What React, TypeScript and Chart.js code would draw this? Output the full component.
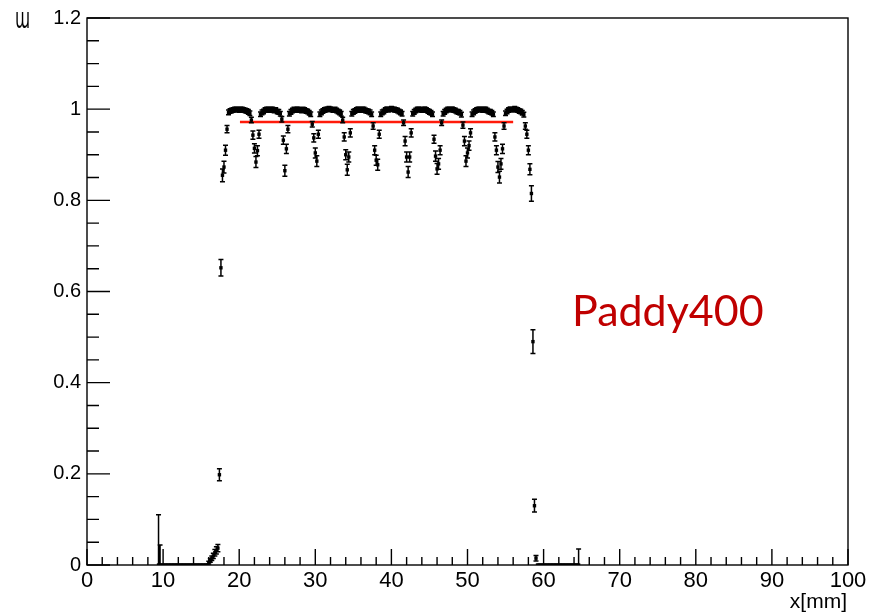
import React, { useEffect, useRef } from 'react';
import { Chart, registerables } from 'chart.js';

Chart.register(...registerables);

// Scan grid (position in mm of the first point and step between points)
const scanStartMm = 9.4;
const scanStepMm = 0.2;

// Efficiency values, left edge 9.4 .. 18.4 mm
const effLeft = [
  0, 0,
  0, 0, 0, 0, 0, 0, 0, 0, 0, 0, 0, 0, 0, 0, 0, 0, 0, 0, 0, 0, 0, 0, 0, 0, 0, 0, 0, 0, 0, 0, 0,
  0.005, 0.01, 0.015, 0.02, 0.027, 0.032, 0.037, 0.198, 0.652, 0.855, 0.873, 0.91, 0.956,
];
const errLeft = [
  0.11, 0.044,
  0, 0, 0, 0, 0, 0, 0, 0, 0, 0, 0, 0, 0, 0, 0, 0, 0, 0, 0, 0, 0, 0, 0, 0, 0, 0, 0, 0, 0, 0, 0,
  0.003, 0.004, 0.005, 0.006, 0.007, 0.008, 0.008, 0.013, 0.018, 0.014, 0.013, 0.011, 0.008,
];

// Plateau 18.6 .. 57.4 mm (arcs between dips)
const effPlateau = [
  0.993, 0.996, 0.997, 0.998, 0.999, 1.0, 0.999, 0.998, 1.0, 0.999, 0.998, 0.997, 0.996, 0.994, 0.991,
  0.976, 0.943, 0.914, 0.884, 0.909, 0.945,
  0.989, 0.993, 0.995, 0.998, 0.999, 1.0, 0.998, 1.0, 0.999, 0.997, 0.998, 0.995, 0.994, 0.99,
  0.978, 0.932, 0.865, 0.913, 0.956,
  0.99, 0.994, 0.997, 0.999, 0.998, 1.0, 0.999, 0.998, 0.997, 0.999, 0.998, 0.996, 0.995, 0.992, 0.989,
  0.967, 0.937, 0.904, 0.886, 0.945,
  0.989, 0.993, 0.996, 0.998, 0.999, 1.0, 1.001, 1.0, 0.999, 0.998, 0.999, 0.997, 0.995, 0.993, 0.99,
  0.976, 0.939, 0.9, 0.867, 0.895, 0.948,
  0.99, 0.994, 0.996, 0.998, 1.0, 0.999, 0.998, 1.0, 0.999, 0.997, 0.996, 0.995, 0.993, 0.989,
  0.963, 0.91, 0.888, 0.878, 0.945,
  0.989, 0.993, 0.995, 0.998, 1.0, 0.999, 1.0, 1.001, 1.0, 0.999, 0.998, 0.997, 0.995, 0.993, 0.99,
  0.97, 0.93, 0.895, 0.862, 0.895, 0.948,
  0.99, 0.994, 0.997, 0.999, 1.0, 0.999, 0.998, 0.999, 1.0, 0.998, 0.996, 0.994, 0.992, 0.989,
  0.934, 0.897, 0.869, 0.88, 0.91, 0.97,
  0.99, 0.994, 0.997, 0.999, 1.0, 0.999, 1.0, 0.998, 0.997, 0.995, 0.994, 0.992, 0.988,
  0.965, 0.93, 0.886, 0.904, 0.92, 0.948,
  0.989, 0.993, 0.996, 0.998, 0.999, 1.0, 0.999, 0.998, 1.0, 0.999, 0.997, 0.995, 0.994, 0.992, 0.989,
  0.939, 0.91, 0.873, 0.851, 0.88, 0.913, 0.963,
  0.991, 0.995, 0.998, 1.0, 0.999, 1.0, 1.001, 0.999, 0.998, 0.996, 0.995, 0.992, 0.988,
];
const errPlateau = [
  0.005, 0.005, 0.005, 0.005, 0.005, 0.005, 0.005, 0.005, 0.005, 0.005, 0.005, 0.005, 0.005, 0.005, 0.005,
  0.006, 0.009, 0.01, 0.012, 0.011, 0.009,
  0.005, 0.005, 0.005, 0.005, 0.005, 0.005, 0.005, 0.005, 0.005, 0.005, 0.005, 0.005, 0.005, 0.005,
  0.006, 0.009, 0.012, 0.01, 0.008,
  0.005, 0.005, 0.005, 0.005, 0.005, 0.005, 0.005, 0.005, 0.005, 0.005, 0.005, 0.005, 0.005, 0.005, 0.005,
  0.006, 0.009, 0.011, 0.012, 0.009,
  0.005, 0.005, 0.005, 0.005, 0.005, 0.005, 0.005, 0.005, 0.005, 0.005, 0.005, 0.005, 0.005, 0.005, 0.005,
  0.006, 0.009, 0.011, 0.012, 0.011, 0.009,
  0.005, 0.005, 0.005, 0.005, 0.005, 0.005, 0.005, 0.005, 0.005, 0.005, 0.005, 0.005, 0.005, 0.005,
  0.007, 0.01, 0.011, 0.012, 0.009,
  0.005, 0.005, 0.005, 0.005, 0.005, 0.005, 0.005, 0.005, 0.005, 0.005, 0.005, 0.005, 0.005, 0.005, 0.005,
  0.006, 0.01, 0.011, 0.012, 0.011, 0.009,
  0.005, 0.005, 0.005, 0.005, 0.005, 0.005, 0.005, 0.005, 0.005, 0.005, 0.005, 0.005, 0.005, 0.005,
  0.009, 0.011, 0.012, 0.012, 0.01, 0.006,
  0.005, 0.005, 0.005, 0.005, 0.005, 0.005, 0.005, 0.005, 0.005, 0.005, 0.005, 0.005, 0.005,
  0.007, 0.01, 0.012, 0.011, 0.01, 0.009,
  0.005, 0.005, 0.005, 0.005, 0.005, 0.005, 0.005, 0.005, 0.005, 0.005, 0.005, 0.005, 0.005, 0.005, 0.005,
  0.009, 0.01, 0.012, 0.013, 0.012, 0.01, 0.007,
  0.005, 0.005, 0.005, 0.005, 0.005, 0.005, 0.005, 0.005, 0.005, 0.005, 0.005, 0.005, 0.005,
];

// Right edge 57.6 .. 64.6 mm
const effRight = [
  0.963, 0.945, 0.91, 0.868, 0.815, 0.49, 0.13, 0.015,
  0, 0, 0, 0, 0, 0, 0, 0, 0, 0, 0, 0, 0, 0, 0, 0, 0, 0, 0, 0, 0, 0, 0, 0, 0, 0, 0, 0,
];
const errRight = [
  0.007, 0.009, 0.01, 0.012, 0.017, 0.026, 0.014, 0.006,
  0, 0, 0, 0, 0, 0, 0, 0, 0, 0, 0, 0, 0, 0, 0, 0, 0, 0, 0, 0, 0, 0, 0, 0, 0, 0, 0, 0.035,
];

// Constant fit
const fitFromMm = 20.1;
const fitToMm = 56.0;
const fitLevel = 0.972;

// Axes
const xMajorTicks = [0, 10, 20, 30, 40, 50, 60, 70, 80, 90, 100];
const yMajorTicks = [0, 0.2, 0.4, 0.6, 0.8, 1.0, 1.2];
const xMinorStep = 2;
const yMinorStep = 0.05;
const xTitle = 'x[mm]';
const yTitle = 'ɯ';
const annotation = 'Paddy400';

export default function App() {
  const ref = useRef<HTMLCanvasElement>(null);

  useEffect(() => {
    const eff = [...effLeft, ...effPlateau, ...effRight];
    const err = [...errLeft, ...errPlateau, ...errRight];
    const pts = eff.map((y, i) => ({ x: Math.round((scanStartMm + i * scanStepMm) * 100) / 100, y, e: err[i] }));

    const errorBars = {
      id: 'errorBars',
      afterDatasetsDraw(chart: any) {
        const { ctx, chartArea: a, scales } = chart;
        const xs = scales.x, ys = scales.y;
        ctx.save();
        ctx.beginPath();
        ctx.rect(a.left, a.top, a.right - a.left, a.bottom - a.top);
        ctx.clip();
        ctx.strokeStyle = '#000';
        ctx.lineWidth = 1.5;
        ctx.beginPath();
        for (const p of pts) {
          if (!p.e) continue;
          const px = xs.getPixelForValue(p.x);
          const top = ys.getPixelForValue(p.y + p.e);
          const bot = ys.getPixelForValue(p.y - p.e);
          ctx.moveTo(px, top);
          ctx.lineTo(px, bot);
          ctx.moveTo(px - 2.5, top);
          ctx.lineTo(px + 2.5, top);
          ctx.moveTo(px - 2.5, bot);
          ctx.lineTo(px + 2.5, bot);
        }
        ctx.stroke();
        ctx.restore();
      },
    };

    const rootAxes = {
      id: 'rootAxes',
      afterDraw(chart: any) {
        const { ctx, chartArea: a, scales } = chart;
        const xs = scales.x, ys = scales.y;
        ctx.save();
        ctx.strokeStyle = '#000';
        ctx.lineWidth = 1.4;
        ctx.strokeRect(a.left, a.top, a.right - a.left, a.bottom - a.top);
        ctx.beginPath();
        const xMin = xMajorTicks[0], xMax = xMajorTicks[xMajorTicks.length - 1];
        const nx = Math.round((xMax - xMin) / xMinorStep);
        for (let i = 0; i <= nx; i++) {
          const v = xMin + i * xMinorStep;
          const px = xs.getPixelForValue(v);
          const major = xMajorTicks.some((t) => Math.abs(t - v) < 1e-6);
          ctx.moveTo(px, a.bottom);
          ctx.lineTo(px, a.bottom - (major ? 16 : 8));
        }
        const yMin = yMajorTicks[0], yMax = yMajorTicks[yMajorTicks.length - 1];
        const ny = Math.round((yMax - yMin) / yMinorStep);
        for (let i = 0; i <= ny; i++) {
          const v = yMin + i * yMinorStep;
          const py = ys.getPixelForValue(v);
          const major = yMajorTicks.some((t) => Math.abs(t - v) < 1e-6);
          ctx.moveTo(a.left, py);
          ctx.lineTo(a.left + (major ? 23 : 12), py);
        }
        ctx.stroke();

        ctx.fillStyle = '#000';
        ctx.font = '21px "Liberation Sans", Arial, sans-serif';
        ctx.textAlign = 'right';
        ctx.textBaseline = 'alphabetic';
        ctx.fillText(xTitle, a.right - 1, 608);

        ctx.font = '28px "DejaVu Sans", sans-serif';
        ctx.textAlign = 'left';
        const w = ctx.measureText(yTitle).width;
        ctx.save();
        ctx.translate(15, 28);
        ctx.scale(15 / w, 1);
        ctx.fillText(yTitle, 0, 0);
        ctx.restore();

        ctx.fillStyle = '#c00000';
        ctx.font = '43px Lato, "Open Sans", sans-serif';
        ctx.textAlign = 'left';
        ctx.fillText(annotation, 572, 326);
        ctx.restore();
      },
    };

    const chart = new Chart(ref.current as HTMLCanvasElement, {
      type: 'scatter',
      data: {
        datasets: [
          {
            type: 'line',
            data: [
              { x: fitFromMm, y: fitLevel },
              { x: fitToMm, y: fitLevel },
            ],
            borderColor: '#ff1a0a',
            borderWidth: 2.6,
            pointRadius: 0,
            fill: false,
            order: 2,
          } as any,
          {
            data: pts,
            pointRadius: 2.4,
            pointStyle: 'rect',
            backgroundColor: '#000',
            borderColor: '#000',
            borderWidth: 0,
            clip: 0,
            order: 1,
          } as any,
        ],
      },
      options: {
        responsive: false,
        animation: false,
        devicePixelRatio: 1,
        events: [],
        layout: { padding: { top: 15, right: 23, left: 0, bottom: 0 } },
        plugins: { legend: { display: false }, tooltip: { enabled: false } },
        scales: {
          x: {
            type: 'linear',
            min: 0,
            max: 100,
            afterBuildTicks: (s: any) => {
              s.ticks = xMajorTicks.map((v) => ({ value: v }));
            },
            afterFit: (s: any) => {
              s.height = 48;
            },
            grid: { display: false, drawTicks: false },
            border: { display: false },
            ticks: {
              color: '#000',
              padding: 3,
              maxRotation: 0,
              autoSkip: false,
              font: { family: '"Liberation Sans", Arial, sans-serif', size: 22 },
              callback: (v: any) => String(v),
            },
          },
          y: {
            type: 'linear',
            min: 0,
            max: 1.2,
            afterBuildTicks: (s: any) => {
              s.ticks = yMajorTicks.map((v) => ({ value: v }));
            },
            afterFit: (s: any) => {
              s.width = 87;
            },
            grid: { display: false, drawTicks: false },
            border: { display: false },
            ticks: {
              color: '#000',
              padding: 6,
              autoSkip: false,
              font: { family: '"Liberation Sans", Arial, sans-serif', size: 20 },
              callback: (v: any) => String(Math.round(Number(v) * 10) / 10),
            },
          },
        },
      },
      plugins: [errorBars, rootAxes],
    });
    return () => chart.destroy();
  }, []);

  return (
    <div style={{ position: 'absolute', left: 0, top: 0 }}>
      <canvas ref={ref} width={871} height={613} style={{ display: 'block' }} />
    </div>
  );
}
